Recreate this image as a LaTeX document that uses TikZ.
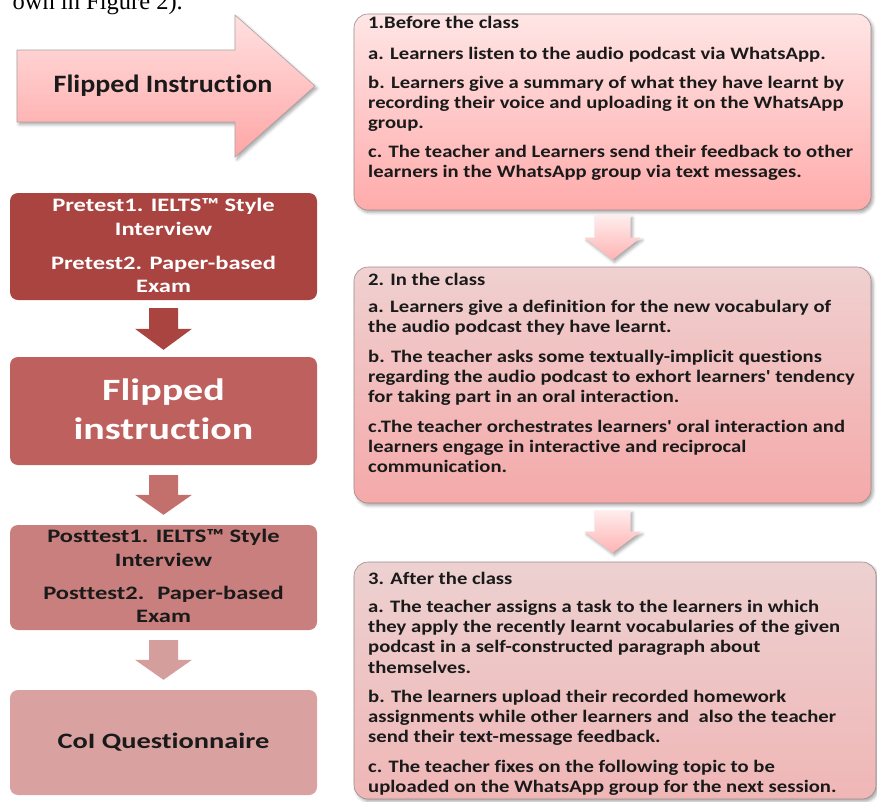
\documentclass[tikz,border=0pt]{standalone}
\usepackage{fontspec}
\usetikzlibrary{calc,shadows.blur}

\newfontfamily\serifface{Liberation Serif}
\newfontfamily\boxface{Carlito}[FakeStretch=1.18,Ligatures={TeXOff,NoCommon}]
\newfontfamily\leftface{Carlito}[FakeStretch=1.29,Ligatures=NoCommon]
\newfontfamily\arrowface{Carlito}[FakeStretch=1.12,Ligatures=NoCommon]

% palette
\definecolor{preC}{HTML}{A94441}
\definecolor{flipC}{HTML}{BE605D}
\definecolor{postC}{HTML}{C97F7D}
\definecolor{coiC}{HTML}{D9A19F}
\definecolor{arrA}{HTML}{A94441}
\definecolor{arrB}{HTML}{C3706D}
\definecolor{arrC}{HTML}{D39E9C}
\definecolor{frameC}{HTML}{9C8C8C}
\definecolor{inkC}{HTML}{1A1A1A}

% a block arrow pointing down from one node to the next
% #1 from, #2 to, #3 gap below #1, #4 gap above #2,
% #5 shaft half width, #6 head half width, #7 head length, #8 style
\newcommand\blockdown[8]{%
  \path[#8] let \p1=($(#1.south)+(0,#3)$), \p2=($(#2.north)-(0,#4)$) in
    (\x1-#5pt,\y1) -- (\x1+#5pt,\y1) -- (\x1+#5pt,\y2+#7pt) --
    (\x1+#6pt,\y2+#7pt) -- (\x1,\y2) -- (\x1-#6pt,\y2+#7pt) --
    (\x1-#5pt,\y2+#7pt) -- cycle;}

\tikzset{
  softshadow/.style={blur shadow={shadow xshift=2pt, shadow yshift=-2.5pt,
      shadow blur radius=3pt, shadow opacity=35}},
  rbox/.style={draw=frameC, line width=0.6pt, rounded corners=14pt,
      inner sep=0pt, softshadow},
  lbox/.style={rounded corners=8pt, inner sep=0pt,
      minimum width=307pt, minimum height=106pt},
  rline/.style={anchor=base west, inner sep=0pt, text=inkC,
      font=\boxface\bfseries\fontsize{17.5pt}{20pt}\selectfont},
  lline/.style={anchor=base, inner sep=0pt,
      font=\leftface\bfseries\fontsize{19pt}{23pt}\selectfont},
}

\begin{document}
\begin{tikzpicture}[x=1pt,y=-1pt]
\useasboundingbox (0,0) rectangle (877,801);
\begin{scope}
\clip (0,0) rectangle (877,801);

% running text above the figure
\node[anchor=base east, inner sep=0pt,
      font=\serifface\fontsize{24.5pt}{28pt}\selectfont] (caption) at (183,9)
  {own in Figure 2).};

% headline arrow
\draw[draw=frameC!80, line width=0.6pt, top color=red!12!white,
      bottom color=red!35!white, softshadow]
  (17,50) -- (235,50) -- (235,15) -- (315,86) -- (235,157) -- (235,122)
  -- (17,122) -- cycle;
\node[anchor=base, inner sep=0pt, text=inkC,
      font=\arrowface\bfseries\fontsize{25pt}{30pt}\selectfont] (headline)
  at (163,92) {Flipped Instruction};

% left column: research procedure
\node[lbox, fill=preC, minimum height=107pt] (pre) at (163.5,246.5) {};
\node[lbox, fill=flipC, minimum height=108pt] (flip) at (163.5,411) {};
\node[lbox, fill=postC, minimum height=105pt] (post) at (163.5,577.5) {};
\node[lbox, fill=coiC, minimum height=105pt] (coi) at (163.5,742.5) {};

\blockdown{pre}{flip}{8}{7}{14.5}{28.5}{21}{fill=arrA}
\blockdown{flip}{post}{10}{10}{14.5}{28.5}{20}{fill=arrB}
\blockdown{post}{coi}{10}{10}{14.5}{28.5}{20}{fill=arrC}

\foreach \y/\t [count=\i] in {211/{Pretest1. IELTS™ Style}, 235/{Interview},
    269.5/{Pretest2. Paper-based}, 292.5/{Exam}}
  \node[lline, text=white] (pre-\i) at (163.5,\y) {\t};

\node[anchor=base, inner sep=0pt, text=white,
      font=\leftface\bfseries\fontsize{31pt}{39pt}\selectfont] (flip-1)
  at (163.5,400) {Flipped};
\node[anchor=base, inner sep=0pt, text=white,
      font=\leftface\bfseries\fontsize{31pt}{39pt}\selectfont] (flip-2)
  at (163.5,439) {instruction};

\foreach \y/\t [count=\i] in {542.5/{Posttest1. IELTS™ Style}, 566/{Interview},
    599.5/{Posttest2.~ Paper-based}, 622.5/{Exam}}
  \node[lline, text=inkC] (post-\i) at (163.5,\y) {\t};

\node[anchor=base, inner sep=0pt, text=inkC,
      font=\leftface\bfseries\fontsize{22pt}{26pt}\selectfont] (coi-1)
  at (163.5,748) {CoI Questionnaire};

% right column: the three stages of a session
\node[rbox, top color=red!10!white, bottom color=red!33!white,
      minimum width=517pt, minimum height=196pt] (before) at (612.5,112) {};
\node[rbox, top color=red!13!white!94!black, bottom color=red!31!white!96!black,
      minimum width=517pt, minimum height=236pt] (during) at (612.5,385) {};
\node[rbox, top color=red!12!white!93!black, bottom color=red!24!white!94!black,
      minimum width=522pt, minimum height=237pt] (after) at (615,680.5) {};

\blockdown{before}{during}{5}{7}{18}{28}{22}{top color=red!7!white, bottom color=red!30!white, softshadow}
\blockdown{during}{after}{7}{9}{18}{28}{21}{top color=red!7!white, bottom color=red!30!white, softshadow}

\foreach \y/\t [count=\i] in {
    28.5/{1.Before the class},
    59/{a. Learners listen to the audio podcast via WhatsApp.},
    88.5/{b. Learners give a summary of what they have learnt by},
    108.5/{recording their voice and uploading it on the WhatsApp},
    128.5/{group.},
    157.5/{c. The teacher and Learners send their feedback to other},
    177.5/{learners in the WhatsApp group via text messages.}}
  \node[rline] (before-\i) at (368,\y) {\t};

\foreach \y/\t [count=\i] in {
    285/{2. In the class},
    312/{a. Learners give a definition for the new vocabulary of},
    332/{the audio podcast they have learnt.},
    362/{b. The teacher asks some textually-implicit questions},
    382/{regarding the audio podcast to exhort learners' tendency},
    402/{for taking part in an oral interaction.},
    432.5/{c.The teacher orchestrates learners' oral interaction and},
    452.5/{learners engage in interactive and reciprocal},
    472.5/{communication.}}
  \node[rline] (during-\i) at (368,\y) {\t};

\foreach \y/\t [count=\i] in {
    584/{3. After the class},
    612/{a. The teacher assigns a task to the learners in which},
    632/{they apply the recently learnt vocabularies of the given},
    652/{podcast in a self-constructed paragraph about},
    673/{themselves.},
    702/{b. The learners upload their recorded homework},
    722/{assignments while other learners and~ also the teacher},
    742.5/{send their text-message feedback.},
    772/{c. The teacher fixes on the following topic to be},
    792/{uploaded on the WhatsApp group for the next session.}}
  \node[rline] (after-\i) at (368,\y) {\t};

\end{scope}
\end{tikzpicture}
\end{document}
